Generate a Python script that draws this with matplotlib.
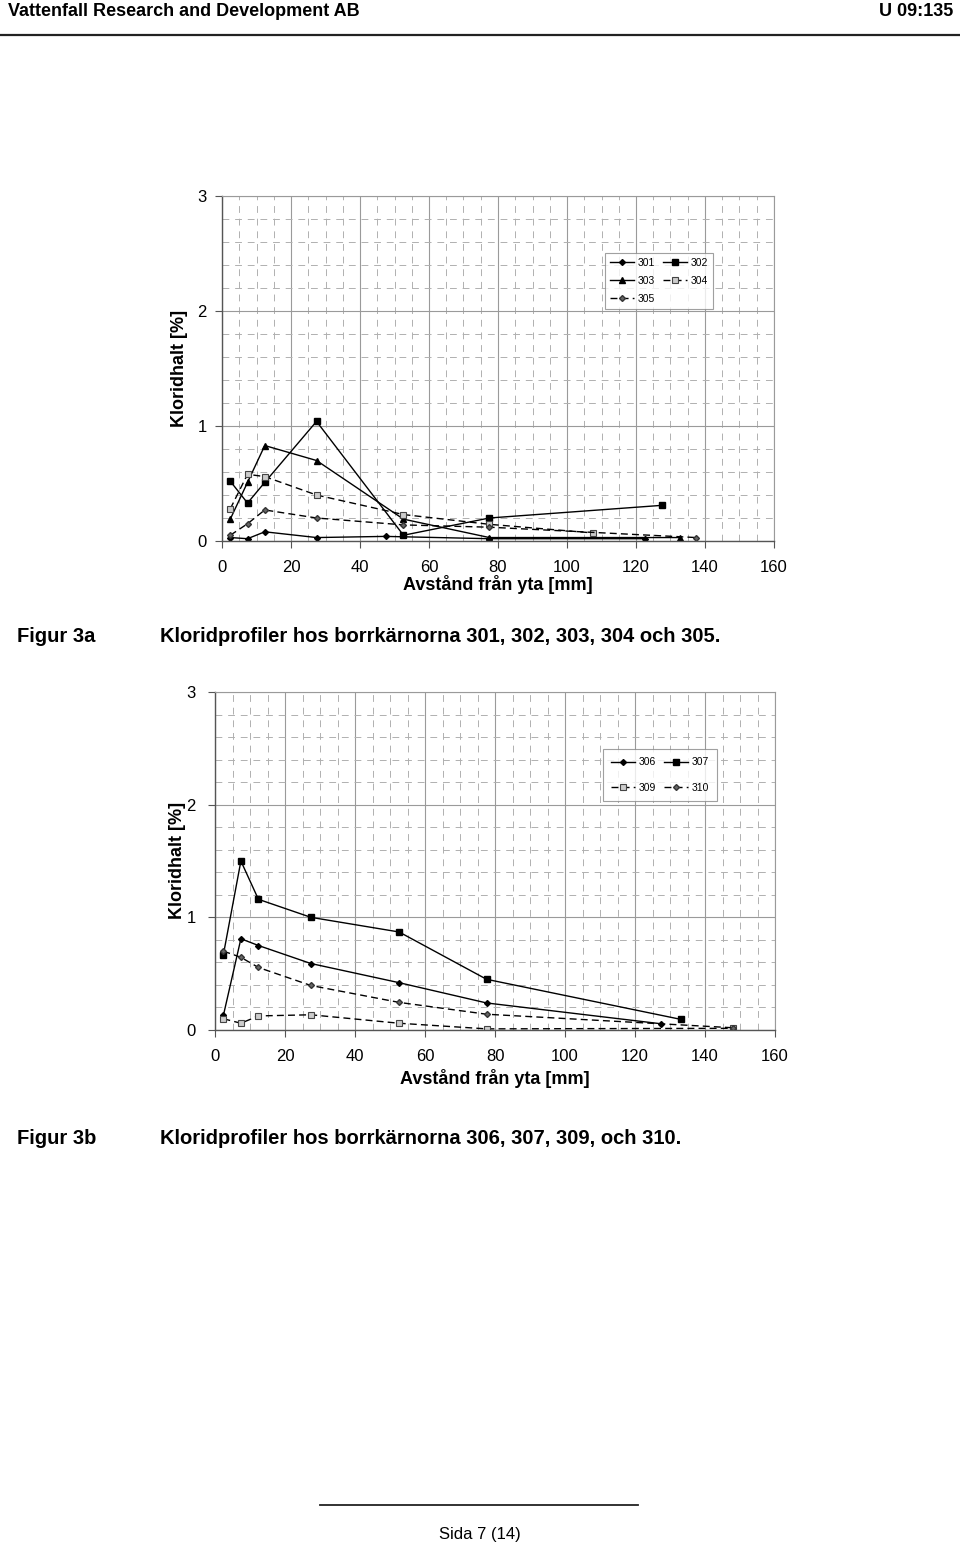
import matplotlib
matplotlib.use("Agg")
import matplotlib.pyplot as plt
from matplotlib.ticker import MultipleLocator

NARROW = ['Liberation Sans Narrow', 'Liberation Sans', 'DejaVu Sans']
REG = ['Liberation Sans', 'DejaVu Sans']
plt.rcParams['font.family'] = NARROW

# ---------------- data: Figur 3a ----------------
names_a = ['301', '302', '303', '304', '305']
x301 = [2.4, 7.4, 12.4, 27.4, 47.4, 77.5, 122.5]
y301 = [0.03, 0.02, 0.08, 0.03, 0.04, 0.02, 0.02]
x302 = [2.4, 7.4, 12.4, 27.4, 52.6, 77.5, 127.5]
y302 = [0.52, 0.33, 0.51, 1.04, 0.05, 0.20, 0.31]
x303 = [2.4, 7.4, 12.4, 27.4, 52.6, 77.5, 132.7]
y303 = [0.19, 0.51, 0.83, 0.70, 0.19, 0.03, 0.03]
x304 = [2.4, 7.4, 12.4, 27.4, 52.6, 77.5, 107.6]
y304 = [0.28, 0.58, 0.56, 0.40, 0.23, 0.145, 0.07]
x305 = [2.4, 7.4, 12.4, 27.4, 52.6, 77.5, 137.4]
y305 = [0.05, 0.15, 0.27, 0.20, 0.14, 0.12, 0.03]

# ---------------- data: Figur 3b ----------------
names_b = ['306', '307', '309', '310']
x306 = [2.4, 7.4, 12.4, 27.4, 52.6, 77.6, 127.5]
y306 = [0.13, 0.81, 0.75, 0.59, 0.42, 0.24, 0.055]
x307 = [2.4, 7.4, 12.4, 27.4, 52.6, 77.6, 133.0]
y307 = [0.67, 1.50, 1.16, 1.00, 0.87, 0.45, 0.095]
x309 = [2.4, 7.4, 12.4, 27.4, 52.6, 77.6, 147.9]
y309 = [0.10, 0.06, 0.125, 0.135, 0.06, 0.01, 0.015]
x310 = [2.4, 7.4, 12.4, 27.4, 52.6, 77.6, 147.9]
y310 = [0.70, 0.645, 0.555, 0.395, 0.245, 0.14, 0.02]

xticks = [0, 20, 40, 60, 80, 100, 120, 140, 160]
yticks = [0, 1, 2, 3]
xlabel = 'Avstånd från yta [mm]'
ylabel = 'Kloridhalt [%]'

fig = plt.figure(figsize=(9.6, 15.5), dpi=100)

def fx(px):
    return px / 960.0

def fy(py):
    return 1 - py / 1550.0

def style_axes(ax):
    ax.set_xlim(0, 160)
    ax.set_ylim(0, 3)
    ax.set_xticks(xticks)
    ax.set_yticks(yticks)
    ax.xaxis.set_minor_locator(MultipleLocator(5))
    ax.yaxis.set_minor_locator(MultipleLocator(0.2))
    ax.grid(which='major', color='#9a9a9a', lw=0.8, ls='-')
    ax.grid(which='minor', color='#b0b0b0', lw=0.7, ls=(0, (7, 6)))
    ax.set_axisbelow(True)
    ax.tick_params(which='minor', length=0)
    ax.tick_params(which='major', direction='out', length=5, width=0.8,
                   color='#555555', labelsize=12)
    for s in ['top', 'right']:
        ax.spines[s].set_color('#9a9a9a')
        ax.spines[s].set_linewidth(0.8)
    for s in ['left', 'bottom']:
        ax.spines[s].set_color('#555555')
        ax.spines[s].set_linewidth(1.0)

lk = dict(color='black', lw=1.0)
legkw = dict(loc='upper left', ncol=2, fontsize=7.5, frameon=True, fancybox=False,
             edgecolor='#888888', handlelength=2.3, columnspacing=0.8,
             handletextpad=0.3, borderaxespad=0.0)

# ---------------- header ----------------
fig.text(fx(8), fy(11), 'Vattenfall Research and Development AB', fontsize=13,
         fontweight='bold', ha='left', va='center', family=NARROW)
fig.text(fx(953), fy(11), 'U 09:135', fontsize=13, fontweight='bold',
         ha='right', va='center', family=NARROW)
fig.add_artist(plt.Line2D([0, 1], [fy(35), fy(35)], color='#222222', lw=1.6))

# ---------------- Figur 3a ----------------
ax1 = fig.add_axes([fx(222), fy(541), fx(774 - 222), (541 - 196) / 1550.0])
style_axes(ax1)
ax1.tick_params(axis='x', pad=9)
ax1.tick_params(axis='y', pad=6)
h301, = ax1.plot(x301, y301, ls='-', marker='D', ms=3, mfc='black', mec='black', label=names_a[0], **lk)
h302, = ax1.plot(x302, y302, ls='-', marker='s', ms=4.5, mfc='black', mec='black', label=names_a[1], **lk)
h303, = ax1.plot(x303, y303, ls='-', marker='^', ms=4.5, mfc='black', mec='black', label=names_a[2], **lk)
h304, = ax1.plot(x304, y304, ls=(0, (5, 3)), marker='s', ms=4.5, mfc='#cccccc', mec='#444444', mew=0.8, label=names_a[3], **lk)
h305, = ax1.plot(x305, y305, ls=(0, (5, 3)), marker='D', ms=3, mfc='#666666', mec='#333333', label=names_a[4], **lk)
# row-wise order: 301 302 / 303 304 / 305
hs = [h301, h303, h305, h302, h304]
leg1 = ax1.legend(hs, [h.get_label() for h in hs], bbox_to_anchor=(0.694, 0.835),
                  labelspacing=0.75, borderpad=0.5, **legkw)
leg1.get_frame().set_linewidth(0.8)

fig.text(fx(180), fy(368), ylabel, rotation=90, fontsize=13, fontweight='bold',
         ha='center', va='center')
fig.text(fx(498), fy(585), xlabel, fontsize=13, fontweight='bold',
         ha='center', va='center')

fig.text(fx(17), fy(637), 'Figur 3a', fontsize=14.5, fontweight='bold',
         ha='left', va='center')
fig.text(fx(160), fy(637), 'Kloridprofiler hos borrkärnorna 301, 302, 303, 304 och 305.',
         fontsize=14.5, fontweight='bold', ha='left', va='center')

# ---------------- Figur 3b ----------------
ax2 = fig.add_axes([fx(215), fy(1030), fx(775 - 215), (1030 - 692) / 1550.0])
style_axes(ax2)
ax2.tick_params(axis='x', pad=9)
ax2.tick_params(axis='y', pad=9)
h306, = ax2.plot(x306, y306, ls='-', marker='D', ms=3, mfc='black', mec='black', label=names_b[0], **lk)
h307, = ax2.plot(x307, y307, ls='-', marker='s', ms=4.5, mfc='black', mec='black', label=names_b[1], **lk)
h309, = ax2.plot(x309, y309, ls=(0, (5, 3)), marker='s', ms=4.5, mfc='#cccccc', mec='#444444', mew=0.8, label=names_b[2], **lk)
h310, = ax2.plot(x310, y310, ls=(0, (5, 3)), marker='D', ms=3, mfc='#666666', mec='#333333', label=names_b[3], **lk)
hs2 = [h306, h309, h307, h310]
leg2 = ax2.legend(hs2, [h.get_label() for h in hs2], bbox_to_anchor=(0.693, 0.831),
                  labelspacing=1.5, borderpad=0.8, **legkw)
leg2.get_frame().set_linewidth(0.8)

fig.text(fx(178), fy(860), ylabel, rotation=90, fontsize=13, fontweight='bold',
         ha='center', va='center')
fig.text(fx(495), fy(1078), xlabel, fontsize=13, fontweight='bold',
         ha='center', va='center')

fig.text(fx(17), fy(1138), 'Figur 3b', fontsize=14.5, fontweight='bold',
         ha='left', va='center')
fig.text(fx(160), fy(1138), 'Kloridprofiler hos borrkärnorna 306, 307, 309, och 310.',
         fontsize=14.5, fontweight='bold', ha='left', va='center')

# ---------------- footer ----------------
fig.add_artist(plt.Line2D([fx(320), fx(638)], [fy(1505), fy(1505)], color='#222222', lw=1.3))
fig.text(fx(480), fy(1535), 'Sida 7 (14)', fontsize=12, ha='center', va='center',
         family=REG)

fig.savefig('out.png', dpi=100, facecolor='white')
